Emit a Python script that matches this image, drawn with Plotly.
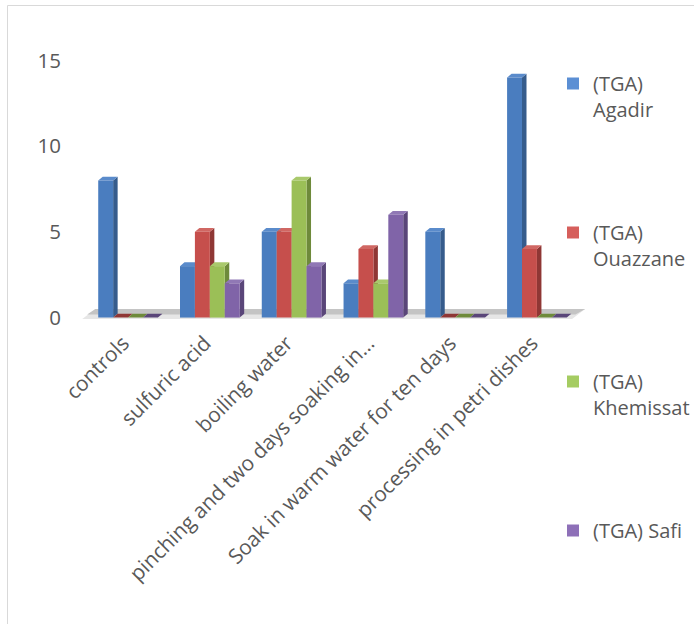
import plotly.graph_objects as go

categories = ["controls", "sulfuric acid", "boiling water",
              "pinching and two days soaking in…",
              "Soak in warm water for ten days", "processing in petri dishes"]
series_names = ["(TGA)<br>Agadir", "(TGA)<br>Ouazzane", "(TGA)<br>Khemissat", "(TGA) Safi"]
agadir = [8, 3, 5, 2, 5, 14]
ouazzane = [0, 5, 5, 4, 0, 4]
khemissat = [0, 3, 8, 2, 0, 0]
safi = [0, 2, 3, 6, 0, 0]
y_ticks = [0, 5, 10, 15]

series_values = [agadir, ouazzane, khemissat, safi]
front_colors = ["#4a7dbf", "#c64f4c", "#9bbf57", "#8064a8"]
side_colors = ["#365c8c", "#8f3735", "#6e8a3b", "#5a4679"]
top_colors = ["#5a8bcb", "#d06763", "#a9c96c", "#9078b5"]
legend_colors = ["#5b8fd4", "#d65f5c", "#a5cc62", "#8e70b8"]

W, H = 694, 624
XR = [-0.6, 5.6]
YR = [-0.2, 15.2]
L, R, T, B = 79, 108, 57, 303
plot_w = W - L - R
plot_h = H - T - B

group = 0.73
bw = group / 4
dx, dy = 0.055, 0.22

fig = go.Figure()
xs = list(range(len(categories)))
shapes = []

# floor
shapes.append(dict(type="path", xref="x", yref="y", layer="below",
                   path="M -0.56,-0.08 L 5.43,-0.08 L 5.59,0.5 L -0.40,0.5 Z",
                   fillcolor="#e6e6e6", line=dict(width=0)))
shapes.append(dict(type="path", xref="x", yref="y", layer="below",
                   path="M -0.50,0.18 L 5.47,0.18 L 5.59,0.5 L -0.40,0.5 Z",
                   fillcolor="#c4c4c4", line=dict(width=0)))

for i, (name, vals) in enumerate(zip(series_names, series_values)):
    off = -group / 2 + bw * i
    fig.add_trace(go.Bar(
        x=xs, y=vals, name=name, width=bw, offset=off,
        marker=dict(color=front_colors[i], line=dict(width=0)),
        legendgroup=f"g{i}", showlegend=False, hoverinfo="skip"))
    # legend proxy
    fig.add_trace(go.Bar(
        x=[None], y=[None], name=name, legendgroup=f"g{i}",
        marker=dict(color=legend_colors[i], line=dict(width=0))))
    for k, v in zip(xs, vals):
        xl = k + off
        xr = xl + bw
        shapes.append(dict(type="path", xref="x", yref="y", layer="below",
                           path=f"M {xr},0 L {xr+dx},{dy} L {xr+dx},{v+dy} L {xr},{v} Z",
                           fillcolor=side_colors[i], line=dict(width=0)))
        shapes.append(dict(type="path", xref="x", yref="y", layer="below",
                           path=f"M {xl},{v} L {xl+dx},{v+dy} L {xr+dx},{v+dy} L {xr},{v} Z",
                           fillcolor=top_colors[i] if v > 0 else side_colors[i],
                           line=dict(width=0)))

# chart border (left and top)
px = lambda p: (p - L) / plot_w
py = lambda p: 1 - (p - T) / plot_h
shapes.append(dict(type="line", xref="paper", yref="paper",
                   x0=px(7.5), x1=px(W), y0=py(5.5), y1=py(5.5),
                   line=dict(color="#d9d9d9", width=1)))
shapes.append(dict(type="line", xref="paper", yref="paper",
                   x0=px(7.5), x1=px(7.5), y0=py(5.5), y1=py(H),
                   line=dict(color="#d9d9d9", width=1)))

font_family = "Open Sans, Noto Sans, sans-serif"
fs = 20.5
fig.update_layout(
    width=W, height=H,
    margin=dict(l=L, r=R, t=T, b=B, autoexpand=False),
    paper_bgcolor="white", plot_bgcolor="rgba(0,0,0,0)",
    barmode="overlay",
    shapes=shapes,
    font=dict(family=font_family, size=fs, color="#595959"),
    xaxis=dict(range=XR, tickmode="array", tickvals=xs, ticktext=categories,
               tickangle=-45, showgrid=False, zeroline=False, showline=False,
               ticks="", ticklabelstandoff=5, ticklabelshift=-5,
               tickfont=dict(size=20.8, color="#595959")),
    yaxis=dict(range=YR, tickmode="array", tickvals=y_ticks,
               showgrid=False, zeroline=False, showline=False,
               ticks="", ticklabelstandoff=17,
               tickfont=dict(size=fs, color="#595959")),
    legend=dict(x=px(553), xanchor="left", y=py(64), yanchor="top",
                valign="top", tracegroupgap=94, maxheight=600,
                font=dict(size=20, color="#595959"),
                bgcolor="rgba(0,0,0,0)", borderwidth=0),
)

fig.write_html("out.html", config={"displayModeBar": False})
